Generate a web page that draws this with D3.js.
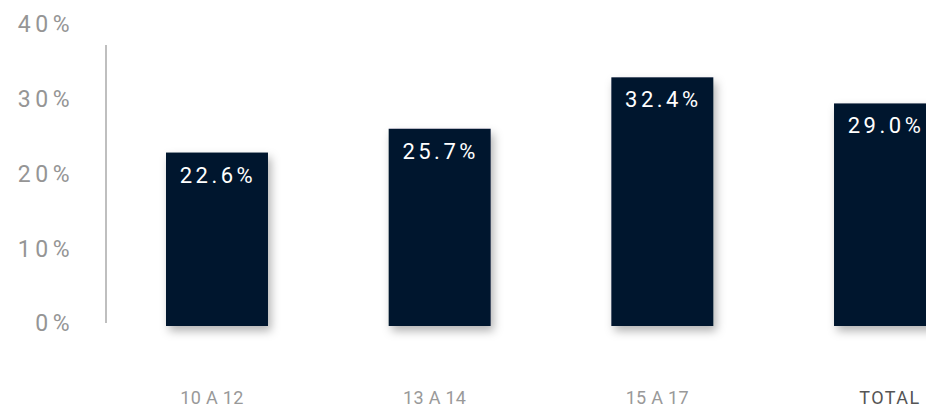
<!DOCTYPE html>
<html>
<head>
<meta charset="utf-8">
<script src="https://cdn.jsdelivr.net/npm/d3@7"></script>
<style>
  html, body { margin: 0; padding: 0; background: #fff; overflow: hidden; }
  text { font-family: Roboto, "Noto Sans", sans-serif; font-weight: 400; }
</style>
</head>
<body>
<div id="chart"></div>
<script>
const categories = ["10 A 12", "13 A 14", "15 A 17", "TOTAL"];
const values = [22.6, 25.7, 32.4, 29.0];
const tickValues = [0, 10, 20, 30, 40];

const width = 926;
const height = 407;

const svg = d3
  .select("#chart")
  .append("svg")
  .attr("width", width)
  .attr("height", height);

// soft shadow under bars
const filter = svg
  .append("defs")
  .append("filter")
  .attr("id", "shadow")
  .attr("x", "-30%")
  .attr("y", "-30%")
  .attr("width", "160%")
  .attr("height", "160%");
filter
  .append("feDropShadow")
  .attr("dx", 3)
  .attr("dy", 5)
  .attr("stdDeviation", 5)
  .attr("flood-color", "#000")
  .attr("flood-opacity", 0.3);

const x = d3
  .scaleBand()
  .domain(categories)
  .range([166, 936])
  .paddingInner(0.542)
  .paddingOuter(0);

const y = d3.scaleLinear().domain([0, 40]).range([326, 19]);
// tick labels sit slightly compressed compared to the bars
const yTicks = d3.scaleLinear().domain([0, 40]).range([323, 24]);

// y axis line
svg
  .append("line")
  .attr("x1", 106)
  .attr("x2", 106)
  .attr("y1", 45)
  .attr("y2", 323)
  .attr("stroke", "#aaa")
  .attr("stroke-width", 1.5);

// y tick labels
svg
  .selectAll(".ytick")
  .data(tickValues)
  .enter()
  .append("text")
  .attr("class", "ytick")
  .attr("x", 74)
  .attr("y", (d) => yTicks(d))
  .attr("dy", "0.36em")
  .attr("text-anchor", "end")
  .attr("fill", "#959595")
  .style("font-size", "23px")
  .style("letter-spacing", "4.5px")
  .text((d) => d + "%");

// bars
svg
  .selectAll("rect.bar")
  .data(values)
  .enter()
  .append("rect")
  .attr("class", "bar")
  .attr("x", (d, i) => x(categories[i]))
  .attr("y", (d) => y(d))
  .attr("width", x.bandwidth())
  .attr("height", (d) => y(0) - y(d))
  .attr("fill", "#02152e")
  .attr("filter", "url(#shadow)");

// value labels
svg
  .selectAll("text.val")
  .data(values)
  .enter()
  .append("text")
  .attr("class", "val")
  .attr("x", (d, i) => x(categories[i]) + x.bandwidth() / 2 + 1)
  .attr("y", (d) => y(d) + 30)
  .attr("text-anchor", "middle")
  .attr("fill", "#fff")
  .style("font-size", "22px")
  .style("letter-spacing", "3.5px")
  .text((d) => d.toFixed(1) + "%");

// category labels
svg
  .selectAll("text.cat")
  .data(categories)
  .enter()
  .append("text")
  .attr("class", "cat")
  .attr("x", (d) => x(d) + x.bandwidth() / 2 + (d === "TOTAL" ? 5 : -5))
  .attr("y", 404)
  .attr("text-anchor", "middle")
  .attr("fill", (d) => (d === "TOTAL" ? "#555" : "#999"))
  .style("font-size", "18px")
  .style("letter-spacing", (d) => (d === "TOTAL" ? "1.5px" : "0.3px"))
  .text((d) => d);
</script>
</body>
</html>
